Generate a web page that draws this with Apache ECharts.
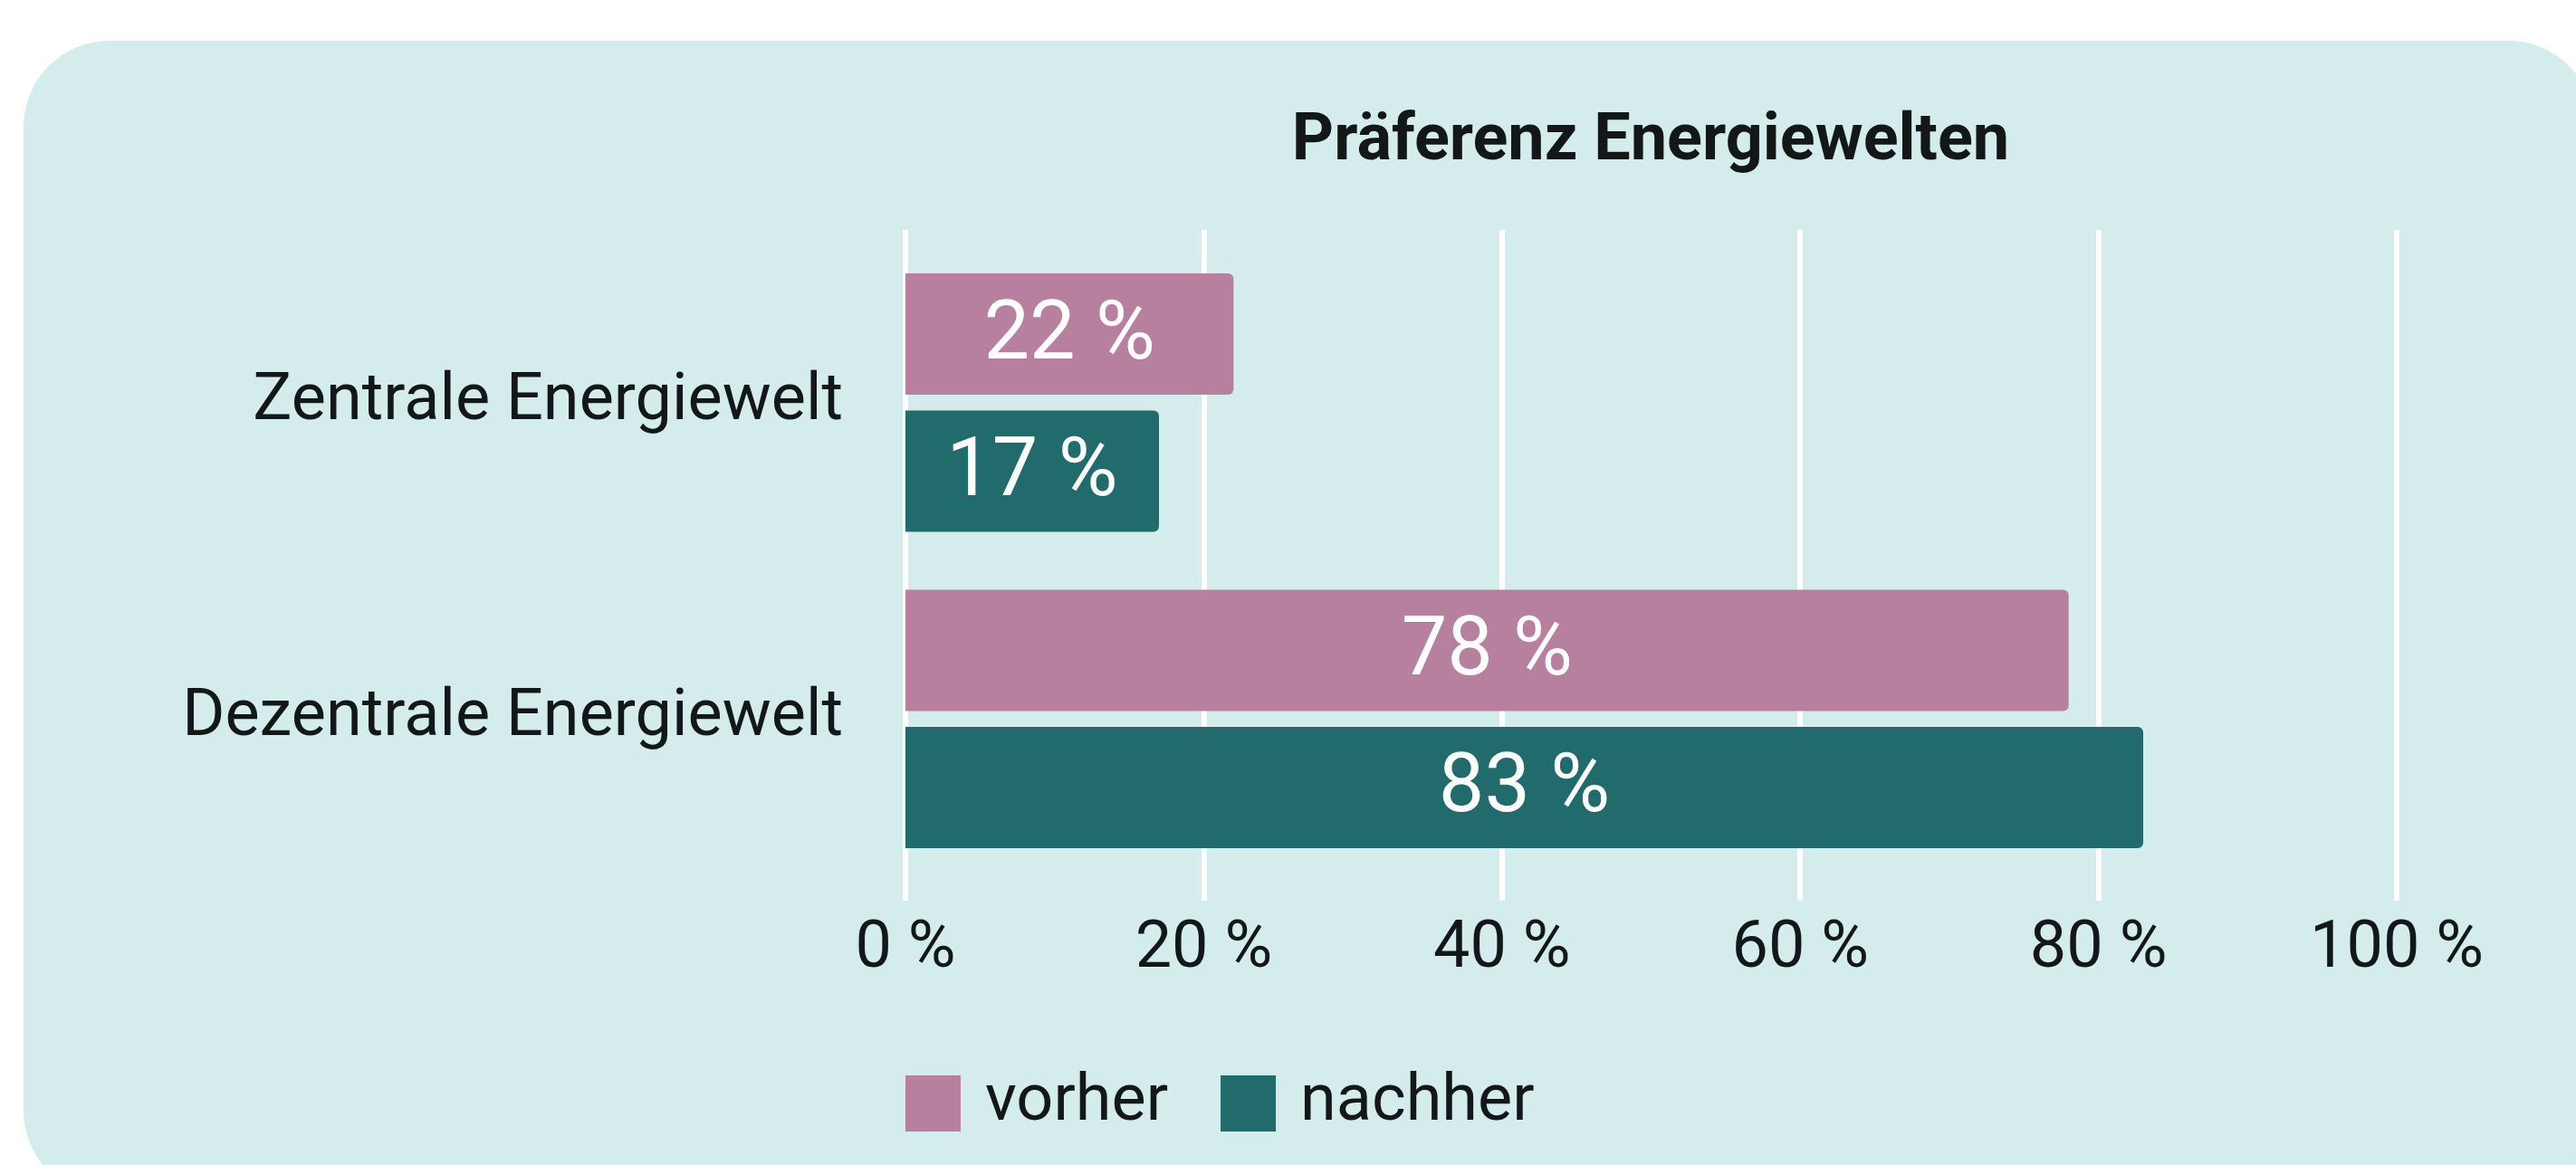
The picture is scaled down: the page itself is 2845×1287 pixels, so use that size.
<!DOCTYPE html>
<html>
<head>
<meta charset="utf-8">
<title>Präferenz Energiewelten</title>
<script src="https://cdn.jsdelivr.net/npm/echarts@6/dist/echarts.min.js"></script>
<style>
  html, body { margin: 0; padding: 0; background: #fff; }
  #chart { width: 2845px; height: 1287px; }
</style>
</head>
<body>
<div id="chart"></div>
<script>
// Daten
const categories = ['Zentrale Energiewelt', 'Dezentrale Energiewelt']
const vorher = [22, 78]
const nachher = [17, 83]
const seriesNames = ['vorher', 'nachher']
const axisMin = 0
const axisMax = 100
const axisStep = 20

const font = 'Roboto'
const textColor = '#131718'
const pink = '#b7809e'
const teal = '#216b6c'

let chart = echarts.init(document.getElementById('chart'), null, { renderer: 'canvas' })

let option = {
  backgroundColor: '#fff',
  textStyle: { fontFamily: font },
  graphic: [{
    type: 'rect',
    z: -10,
    shape: { x: 26, y: 45, width: 2839, height: 1277, r: 95 },
    style: { fill: '#d4ecec' }
  }],
  title: {
    text: 'Präferenz Energiewelten',
    left: 1823,
    textAlign: 'center',
    top: 122,
    padding: 0,
    textStyle: { fontFamily: font, fontSize: 72, fontWeight: 'bold', color: textColor }
  },
  legend: {
    data: seriesNames,
    left: 1000,
    top: 1183,
    padding: 0,
    icon: 'rect',
    itemWidth: 61,
    itemHeight: 62,
    itemGap: 58,
    textStyle: { fontFamily: font, fontSize: 72, color: textColor, padding: [0, 0, 0, 22] }
  },
  grid: [
    // Balken
    { left: 1000, right: 198, top: 270, bottom: 318 },
    // nur Gitterlinien (etwas länger als die Kategorien)
    { left: 1000, right: 198, top: 254, bottom: 292 }
  ],
  xAxis: [{
    gridIndex: 0,
    type: 'value',
    min: axisMin,
    max: axisMax,
    interval: axisStep,
    axisLine: { show: false },
    axisTick: { show: false },
    splitLine: { show: false },
    axisLabel: {
      formatter: '{value} %',
      margin: 45,
      fontFamily: font,
      fontSize: 72,
      color: textColor
    }
  }, {
    gridIndex: 1,
    type: 'value',
    min: axisMin,
    max: axisMax,
    interval: axisStep,
    axisLine: { show: false },
    axisTick: { show: false },
    axisLabel: { show: false },
    splitLine: { show: true, lineStyle: { color: '#ffffff', width: 6 } }
  }],
  yAxis: [{
    gridIndex: 0,
    type: 'category',
    inverse: true,
    data: categories,
    axisLine: { show: false },
    axisTick: { show: false },
    axisLabel: {
      margin: 69,
      fontFamily: font,
      fontSize: 72,
      color: textColor
    }
  }, {
    gridIndex: 1,
    type: 'value',
    show: false
  }],
  series: [{
    name: seriesNames[0],
    type: 'bar',
    xAxisIndex: 0,
    yAxisIndex: 0,
    data: vorher,
    barWidth: 134,
    barGap: '13%',
    itemStyle: { color: pink, borderRadius: [0, 6, 6, 0] },
    label: {
      show: true,
      position: 'inside',
      offset: [0, 4],
      formatter: '{c} %',
      fontFamily: font,
      fontSize: 90,
      color: '#ffffff'
    }
  }, {
    name: seriesNames[1],
    type: 'bar',
    xAxisIndex: 0,
    yAxisIndex: 0,
    data: nachher,
    barWidth: 134,
    barGap: '13%',
    itemStyle: { color: teal, borderRadius: [0, 6, 6, 0] },
    label: {
      show: true,
      position: 'inside',
      offset: [0, 4],
      formatter: '{c} %',
      fontFamily: font,
      fontSize: 90,
      color: '#ffffff'
    }
  }]
}

chart.setOption(option)
</script>
</body>
</html>
